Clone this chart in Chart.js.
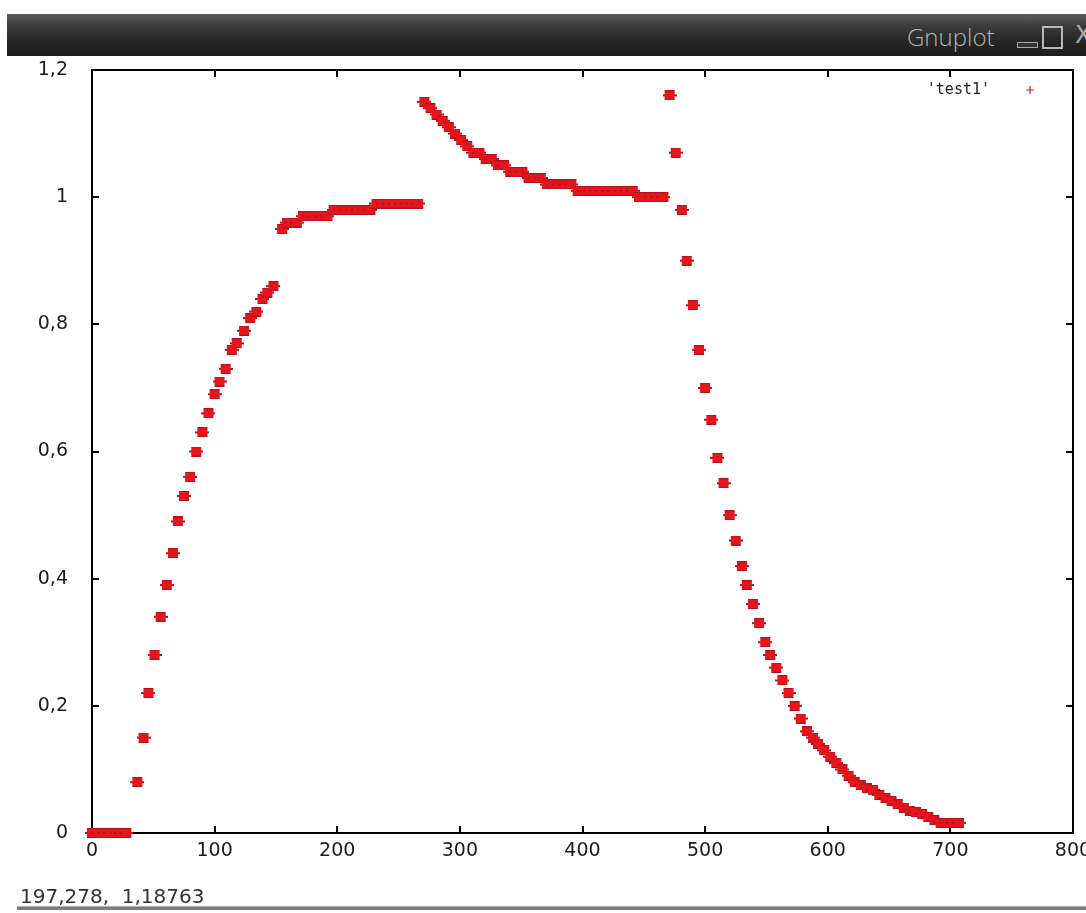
<!DOCTYPE html>
<html>
<head>
<meta charset="utf-8">
<script src="https://cdn.jsdelivr.net/npm/chart.js@4.4.1/dist/chart.umd.min.js"></script>
<style>
html,body{margin:0;padding:0;background:#fff;width:1086px;height:913px;overflow:hidden;position:relative;}
#chart{position:absolute;left:0;top:0;}
#titlebar{position:absolute;left:7px;top:14px;width:1079px;height:42px;
  background:linear-gradient(#5e5e5e 0%,#3a3a3a 30%,#262626 65%,#1c1c1c 100%);z-index:2;overflow:hidden;}
#titletext{position:absolute;left:900px;top:6px;font-family:"Open Sans","DejaVu Sans",sans-serif;font-weight:300;font-size:24px;color:#b4b4b4;}
#minbtn{position:absolute;left:1010px;top:28px;width:19px;height:4px;border:1px solid #aaa;background:#333;}
#maxbtn{position:absolute;left:1035px;top:12px;width:17px;height:19px;border:2px solid #b8b8b8;}
#closebtn{position:absolute;left:1068px;top:7px;font-family:"DejaVu Sans",sans-serif;font-size:24px;color:#aaa;}
#status{position:absolute;left:20px;top:884px;font-family:"DejaVu Sans",sans-serif;font-size:20px;color:#333;white-space:pre;}
#statusline{position:absolute;left:17px;top:906px;width:1069px;height:3px;background:#7c7c7c;border-top:1px solid #aaa;}
</style>
</head>
<body>
<canvas id="chart" width="1100" height="913"></canvas>
<div id="titlebar"><span id="titletext">Gnuplot</span><div id="minbtn"></div><div id="maxbtn"></div><span id="closebtn">X</span></div>
<div id="status">197,278,  1,18763</div>
<div id="statusline"></div>
<script>
const seriesName = 'test1';
const xTickLabels = ['0','100','200','300','400','500','600','700','800'];
const yTickLabels = ['0','0,2','0,4','0,6','0,8','1','1,2'];

const xValues = [
  0, 5, 10, 15, 20, 24, 28,
  37, 42, 46, 51, 56, 61, 66, 70, 75, 80, 85, 90, 95, 100, 104, 109, 114, 118, 124, 129, 134, 139, 143, 148,
  155, 159, 163, 167, 172, 177, 182, 187, 192, 197, 202, 207, 212, 217, 222, 227, 232, 237, 242, 247, 252, 257, 262, 266,
  271, 276, 281, 286, 291, 296, 301, 306, 311, 316, 321, 326, 331, 336, 341, 346, 351, 356, 361, 366, 371, 376, 381, 386, 391,
  396, 401, 406, 411, 416, 421, 426, 431, 436, 441, 446, 451, 456, 461, 466,
  471, 476, 481, 485, 490, 495, 500, 505, 510, 515, 520, 525, 530, 534, 539, 544, 549, 553, 558, 563, 568, 573, 578, 583, 588,
  592, 597, 602, 607, 612, 617, 622, 627, 632, 637, 642, 647, 652, 657, 662, 667, 672, 677, 682, 687, 692, 697, 702, 707
];
const yValues = [
  0, 0, 0, 0, 0, 0, 0,
  0.08, 0.15, 0.22, 0.28, 0.34, 0.39, 0.44, 0.49, 0.53, 0.56, 0.60, 0.63, 0.66, 0.69, 0.71, 0.73, 0.76, 0.77, 0.79, 0.81, 0.82, 0.84, 0.85, 0.86,
  0.95, 0.96, 0.96, 0.96, 0.97, 0.97, 0.97, 0.97, 0.97, 0.98, 0.98, 0.98, 0.98, 0.98, 0.98, 0.98, 0.99, 0.99, 0.99, 0.99, 0.99, 0.99, 0.99, 0.99,
  1.15, 1.14, 1.13, 1.12, 1.11, 1.10, 1.09, 1.08, 1.07, 1.07, 1.06, 1.06, 1.05, 1.05, 1.04, 1.04, 1.04, 1.03, 1.03, 1.03, 1.02, 1.02, 1.02, 1.02, 1.02,
  1.01, 1.01, 1.01, 1.01, 1.01, 1.01, 1.01, 1.01, 1.01, 1.01, 1.00, 1.00, 1.00, 1.00, 1.00,
  1.16, 1.07, 0.98, 0.90, 0.83, 0.76, 0.70, 0.65, 0.59, 0.55, 0.50, 0.46, 0.42, 0.39, 0.36, 0.33, 0.30, 0.28, 0.26, 0.24, 0.22, 0.20, 0.18, 0.16, 0.15,
  0.14, 0.13, 0.12, 0.11, 0.10, 0.09, 0.08, 0.075, 0.07, 0.068, 0.06, 0.055, 0.05, 0.045, 0.04, 0.035, 0.033, 0.03, 0.025, 0.02, 0.016, 0.016, 0.016, 0.016
];

const points = xValues.map((x, i) => ({x: x, y: yValues[i]}));

function makeMarker() {
  const c = document.createElement('canvas');
  c.width = 14; c.height = 10;
  const g = c.getContext('2d');
  g.fillStyle = '#b4121f';
  g.fillRect(0, 4, 2, 2);
  g.fillRect(12, 4, 2, 2);
  g.fillStyle = '#b8101e';
  g.fillRect(2, 0, 10, 10);
  g.fillStyle = '#e4161c';
  g.fillRect(2, 1, 10, 8);
  return c;
}
const marker = makeMarker();

const framePlugin = {
  id: 'gnuframe',
  beforeDatasetsDraw(chart) {
    const {ctx, chartArea: a, scales} = chart;
    const xs = scales.x, ys = scales.y;
    ctx.save();
    ctx.strokeStyle = '#000';
    ctx.lineWidth = 2;
    ctx.strokeRect(a.left, a.top, a.right - a.left, a.bottom - a.top);
    ctx.beginPath();
    xs.ticks.forEach(t => {
      const p = Math.round(xs.getPixelForValue(t.value));
      ctx.moveTo(p, a.bottom); ctx.lineTo(p, a.bottom - 7);
      ctx.moveTo(p, a.top); ctx.lineTo(p, a.top + 7);
    });
    ys.ticks.forEach(t => {
      const p = Math.round(ys.getPixelForValue(t.value));
      ctx.moveTo(a.left, p); ctx.lineTo(a.left + 7, p);
      ctx.moveTo(a.right, p); ctx.lineTo(a.right - 7, p);
    });
    ctx.stroke();
    ctx.restore();
  },
  afterDatasetsDraw(chart) {
    const {ctx, chartArea: a} = chart;
    const label = "'" + chart.data.datasets[0].label + "'";
    ctx.save();
    ctx.font = '15px "DejaVu Sans Mono", monospace';
    ctx.fillStyle = '#222';
    ctx.textAlign = 'right';
    ctx.textBaseline = 'middle';
    ctx.fillText(label, a.right - 83, a.top + 20);
    const cx = a.right - 43, cy = a.top + 20;
    ctx.strokeStyle = '#e01a1a';
    ctx.lineWidth = 1.2;
    ctx.beginPath();
    ctx.moveTo(cx - 4, cy); ctx.lineTo(cx + 4, cy);
    ctx.moveTo(cx, cy - 4); ctx.lineTo(cx, cy + 4);
    ctx.stroke();
    ctx.restore();
  }
};

const tickFont = {family: '"DejaVu Sans", sans-serif', size: 19};

new Chart(document.getElementById('chart'), {
  type: 'scatter',
  data: {
    datasets: [{
      label: seriesName,
      data: points,
      pointStyle: marker,
      pointRadius: 6,
      pointHoverRadius: 6,
      showLine: false,
      clip: false,
      backgroundColor: '#e01a1a',
      borderColor: '#e01a1a'
    }]
  },
  options: {
    responsive: false,
    animation: false,
    devicePixelRatio: 1,
    layout: {padding: {left: 0, top: 70, right: 27, bottom: 40}},
    plugins: {legend: {display: false}, tooltip: {enabled: false}},
    scales: {
      x: {
        type: 'linear', min: 0, max: 800,
        grid: {display: false, drawTicks: false},
        border: {display: false},
        ticks: {stepSize: 100, autoSkip: false, maxRotation: 0, padding: 7, color: '#1a1a1a', font: tickFont,
          callback: (v, i) => xTickLabels[i]},
        afterFit: s => { s.height = 40; }
      },
      y: {
        type: 'linear', min: 0, max: 1.2,
        grid: {display: false, drawTicks: false},
        border: {display: false},
        ticks: {stepSize: 0.2, autoSkip: false, padding: 24, color: '#1a1a1a', font: tickFont,
          callback: (v, i) => yTickLabels[i]},
        afterFit: s => { s.width = 92; }
      }
    }
  },
  plugins: [framePlugin]
});
</script>
</body>
</html>
